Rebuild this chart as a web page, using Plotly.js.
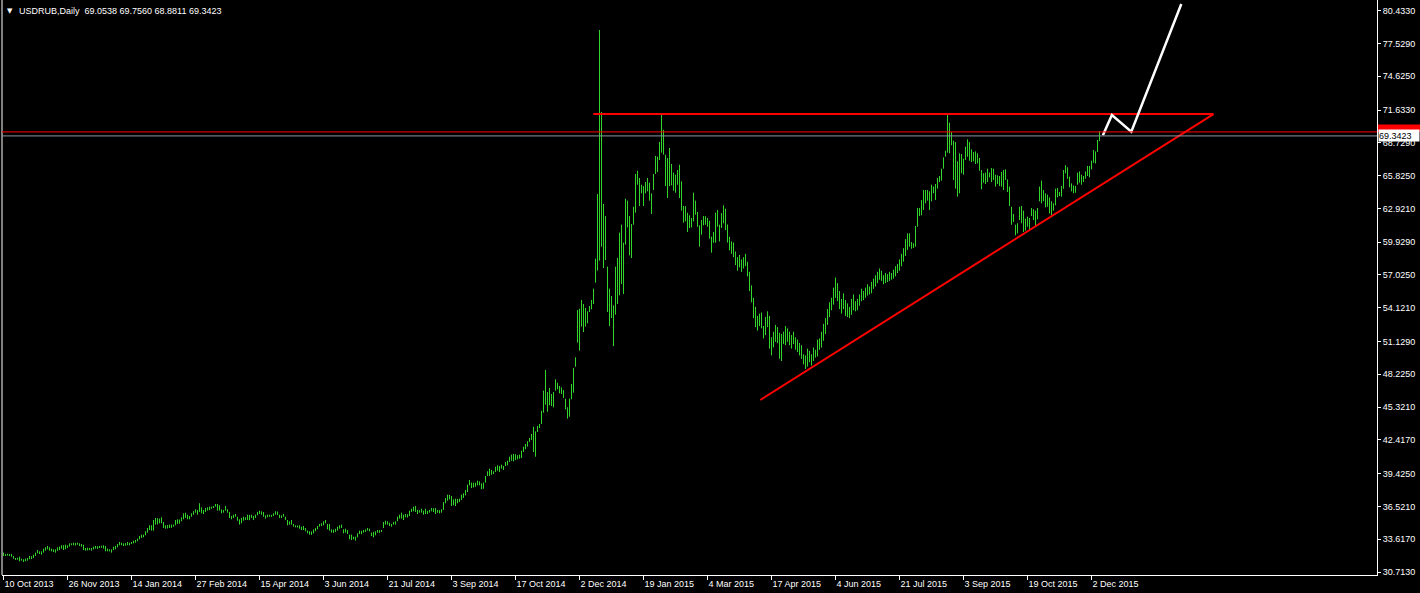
<!DOCTYPE html>
<html>
<head>
<meta charset="utf-8">
<script src="https://cdn.plot.ly/plotly-3.0.1.min.js"></script>
<style>html,body{margin:0;padding:0;background:#000;}#chart{width:1420px;height:593px;}</style>
</head>
<body>
<div id="chart"></div>
<script>
// ---- Data (USDRUB, Daily bars: high / low per trading day) ----
const symbolTitle = "USDRUB,Daily";
const lastOHLC = ["69.0538", "69.7560", "68.8811", "69.3423"];
const bidPrice = 69.3423;
const hLineLevel = 69.6954;

const dateLabels = ["10 Oct 2013","26 Nov 2013","14 Jan 2014","27 Feb 2014","15 Apr 2014","3 Jun 2014","21 Jul 2014","3 Sep 2014","17 Oct 2014","2 Dec 2014","19 Jan 2015","4 Mar 2015","17 Apr 2015","4 Jun 2015","21 Jul 2015","3 Sep 2015","19 Oct 2015","2 Dec 2015"];
const dateLabelBars = [0,32,64,96,128,160,192,224,256,288,320,352,384,416,448,480,512,544];

const priceTicks = [30.7130,33.6170,36.5210,39.4250,42.4170,45.3210,48.2250,51.1290,54.1210,57.0250,59.9290,62.9210,65.8250,68.7290,71.6330,74.6250,77.5290,80.4330];

const highs = [
32.43,32.31,32.33,32.31,32.31,32.13,31.95,31.97,32.07,31.90,
31.84,31.90,31.95,32.13,32.11,32.25,32.43,32.66,32.54,32.54,
32.78,32.90,33.02,32.90,32.78,32.72,32.72,32.90,32.96,33.08,
33.08,33.13,33.08,33.25,33.25,33.31,33.29,33.31,33.25,33.19,
33.13,32.84,32.86,32.84,32.84,32.96,33.02,33.00,33.02,33.04,
33.08,33.02,32.78,32.72,32.72,32.96,33.02,33.19,33.37,33.31,
33.25,33.27,33.37,33.31,33.37,33.49,33.55,33.67,33.90,34.02,
34.02,34.32,34.61,34.85,34.85,35.32,35.50,35.48,35.44,35.56,
35.14,34.85,34.87,34.91,34.91,34.91,35.32,35.38,35.36,35.56,
35.91,35.97,35.79,35.67,35.91,36.09,36.26,36.20,36.80,36.44,
36.20,36.38,36.44,36.50,36.50,36.56,36.74,36.74,36.62,36.26,
36.20,36.56,36.26,36.03,35.67,35.79,35.85,35.61,35.38,35.50,
35.61,35.56,35.79,35.77,35.79,35.67,35.79,36.03,36.15,36.09,
36.03,35.73,35.79,35.79,35.77,35.91,36.09,36.07,35.79,35.73,
35.85,35.61,35.32,35.20,35.32,34.97,34.85,34.83,34.85,34.73,
34.79,34.61,34.38,34.32,34.30,34.49,34.61,34.79,34.97,35.03,
35.20,35.32,34.97,34.97,34.49,34.47,34.55,34.73,34.85,34.91,
34.49,34.55,34.43,34.02,34.02,33.84,33.84,34.14,34.38,34.36,
34.43,34.49,34.61,34.55,34.20,34.26,34.32,34.43,34.41,34.43,
35.14,35.26,35.20,35.08,34.97,35.14,35.20,35.61,35.79,
35.97,35.79,35.85,35.83,36.15,36.32,36.50,36.56,36.21,36.19,
36.32,36.15,36.32,36.13,36.21,36.38,36.36,36.38,36.21,36.19,
36.27,36.91,37.27,37.56,37.54,37.45,37.15,37.21,37.19,37.21,
37.56,37.68,37.98,38.45,38.86,38.63,38.61,38.63,38.80,38.74,
38.57,38.63,39.22,39.63,39.87,39.75,39.63,40.04,40.16,40.10,
40.22,40.10,40.46,40.57,40.93,41.11,41.17,41.15,41.05,41.11,
41.46,41.82,42.05,42.29,42.58,42.94,43.59,43.17,43.65,43.82,
45.00,46.78,48.61,46.66,47.01,46.48,46.66,47.78,47.48,47.19,
47.07,46.83,46.07,45.30,46.07,47.37,48.78,49.73,
53.92,54.04,54.81,54.45,54.10,53.80,54.27,54.81,55.81,58.47,
64.20,78.72,71.46,63.31,62.25,57.76,55.81,55.16,54.33,57.76,
58.53,60.77,61.48,59.88,63.78,63.61,62.25,61.54,63.07,65.97,
66.26,65.61,65.02,64.90,65.26,65.61,65.20,64.25,65.97,67.56,
67.50,68.80,71.22,69.87,67.68,67.38,68.27,66.85,66.09,65.91,
66.32,66.79,65.32,63.13,63.11,62.54,62.31,62.07,64.31,63.61,
62.60,61.42,61.89,62.25,62.23,62.07,61.83,60.42,60.83,62.54,62.78,61.48,
62.5,63.2,62.9,61.5,60.4,60.0,59.9,59.1,58.6,58.8,
58.4,58.6,58.9,58.2,57.3,56.1,55.0,54.2,53.4,53.6,
53.7,52.5,53.3,53.8,53.4,51.5,52.0,52.6,52.4,51.9,
51.8,52.0,52.5,52.3,52.0,51.7,52.0,51.5,51.3,51.0,
50.8,50.0,49.9,50.5,50.3,50.0,50.6,50.4,51.3,51.4,
52.0,52.7,53.2,54.0,54.6,55.0,55.9,56.8,56.3,55.6,
54.9,55.4,54.8,54.5,54.2,54.9,55.3,54.7,54.9,55.3,
55.8,55.6,55.9,56.2,56.0,56.4,56.7,57.0,57.3,57.6,
57.4,57.0,57.2,57.1,57.3,57.2,57.5,57.8,58.0,58.4,58.9,59.4,60.2,
60.71,60.71,59.94,59.83,61.36,62.96,62.96,63.66,64.55,64.55,
64.55,64.43,65.02,64.85,65.08,65.61,65.79,66.44,67.45,68.03,
71.22,70.52,69.69,68.92,68.80,67.09,67.80,67.74,67.33,68.39,
69.04,68.80,68.15,67.92,67.97,67.80,67.39,66.32,66.03,66.09,
66.44,66.09,66.50,66.44,65.91,65.85,65.79,66.15,66.32,66.38,
65.49,64.85,63.07,62.42,61.48,61.60,63.07,63.13,62.72,62.01,
62.19,62.07,62.96,62.84,62.72,62.96,64.85,65.38,64.55,64.26,
64.14,63.90,63.55,63.37,64.67,64.73,64.37,64.91,66.32,66.74,
66.56,65.73,65.14,64.96,64.91,66.09,66.20,65.91,65.79,66.20,
66.68,66.68,67.15,68.09,67.97,68.98,69.756
];

const lows = [
32.13,32.13,32.16,32.13,32.07,31.90,31.78,31.80,31.66,31.72,
31.60,31.66,31.72,31.84,31.86,31.95,32.13,32.37,32.31,32.25,
32.43,32.60,32.72,32.60,32.54,32.49,32.43,32.60,32.66,32.78,
32.66,32.72,32.84,32.96,33.08,33.08,33.06,33.13,33.02,32.96,
32.66,32.60,32.62,32.66,32.60,32.72,32.78,32.76,32.84,32.86,
32.78,32.54,32.54,32.54,32.43,32.66,32.72,32.90,33.08,33.08,
33.02,33.04,33.08,33.08,33.19,33.25,33.31,33.43,33.61,33.73,
33.78,33.96,34.20,34.43,34.38,34.38,34.91,34.93,35.03,35.03,
34.61,34.55,34.57,34.61,34.63,34.73,34.85,34.97,34.99,35.20,
35.38,35.50,35.38,35.38,35.61,35.79,35.97,35.79,36.03,35.91,
35.85,36.03,36.15,36.20,36.32,36.38,36.50,36.15,36.15,35.91,
35.97,36.15,35.97,35.50,35.38,35.50,35.61,35.26,34.91,35.03,
35.26,35.32,35.32,35.30,35.50,35.32,35.50,35.73,35.85,35.79,
35.61,35.44,35.56,35.61,35.59,35.67,35.79,35.77,35.50,35.50,
35.61,35.32,34.85,34.91,34.91,34.73,34.67,34.65,34.55,34.43,
34.43,34.32,34.14,34.02,34.00,34.14,34.32,34.49,34.73,34.79,
34.85,35.03,34.49,34.38,34.20,34.18,34.26,34.38,34.55,34.61,
34.14,34.20,34.08,33.61,33.55,33.61,33.49,33.78,34.08,34.06,
34.20,34.26,34.38,34.32,33.90,33.78,33.96,34.20,34.18,34.26,
34.61,34.91,34.91,34.79,34.73,34.91,34.91,35.20,35.44,
35.44,35.32,35.56,35.54,35.67,36.03,36.09,36.03,35.85,35.97,
35.97,35.79,35.85,35.85,35.97,36.09,36.03,35.85,35.97,35.91,
35.97,36.21,36.80,37.03,37.15,36.56,36.62,36.56,36.80,36.91,
37.09,37.27,37.50,37.80,38.39,38.15,38.21,38.27,38.39,38.39,
38.04,38.09,38.63,39.22,39.22,39.33,39.39,39.57,39.69,39.57,
39.87,39.75,40.10,40.16,40.46,40.57,40.51,40.63,40.69,40.75,
40.81,41.34,41.58,41.82,42.23,42.41,41.34,40.93,43.11,43.47,
43.82,44.83,45.54,44.91,45.48,45.42,45.30,46.78,46.89,46.54,
46.48,46.13,45.12,44.30,44.47,46.01,46.60,48.90,
51.03,50.32,52.45,51.97,52.45,52.74,53.74,53.98,54.45,56.34,
57.41,58.29,59.53,57.64,58.35,53.74,52.50,53.21,50.73,53.51,
54.45,55.22,56.22,55.34,59.71,61.24,58.76,58.53,61.48,62.54,
65.02,63.13,64.25,63.13,64.25,64.43,63.61,62.43,64.55,65.97,
66.14,67.21,67.86,67.68,64.90,63.84,64.90,64.96,64.49,64.31,
65.02,63.84,62.72,61.66,61.77,60.83,61.18,61.24,61.77,62.37,
61.30,59.53,60.59,61.42,61.48,61.30,60.24,59.00,59.88,59.88,61.30,59.99,
61.2,61.6,61.0,59.9,59.2,58.9,58.6,57.9,57.4,57.7,
57.3,57.6,57.8,56.9,55.6,54.6,53.2,52.4,52.1,52.5,
52.3,51.4,51.7,52.4,50.5,49.9,50.6,51.1,51.0,49.6,
49.4,50.9,50.8,51.1,50.8,50.5,50.9,50.4,50.2,49.9,
49.6,49.1,48.7,48.9,49.3,49.0,49.4,49.7,49.8,50.4,
50.6,51.2,51.8,52.6,53.3,53.9,54.4,55.0,54.7,54.0,
53.6,54.0,53.4,53.3,53.2,53.5,53.9,53.8,53.9,54.3,
54.7,54.8,55.0,55.2,55.3,55.4,55.8,56.0,56.3,56.6,
56.5,56.2,56.3,56.4,56.5,56.6,56.7,56.9,57.2,57.4,57.8,58.2,58.7,
59.24,59.53,59.35,59.41,59.53,61.30,62.25,62.31,62.78,63.37,
63.61,62.78,63.55,64.26,63.66,64.67,65.26,65.38,66.44,67.50,
67.86,67.80,68.51,65.44,64.67,63.96,64.26,66.03,65.91,67.21,
67.50,67.15,67.03,67.09,66.85,66.91,66.26,64.61,65.20,65.08,
65.26,65.67,65.26,65.44,64.85,65.08,64.91,64.85,64.55,65.44,
64.37,63.13,61.48,61.72,60.53,60.71,61.89,61.60,60.83,60.95,
61.30,60.95,62.25,61.89,61.36,61.95,63.55,63.37,63.55,63.02,
63.07,62.48,62.31,62.72,63.19,63.90,64.02,63.96,64.67,66.03,
65.55,64.79,64.43,64.26,64.31,65.02,65.20,65.02,65.26,65.55,
65.79,65.67,66.38,66.97,66.91,67.92,68.881
];

// Drawn objects (bar index, price)
const resistanceBars = [294.9, 605];
const resistanceLevel = 71.28;
const trendBars = [378.4, 605];
const trendPrices = [45.95, 71.28];
const zigzagBars = [549.7, 554.2, 563.9, 588.9];
const zigzagPrices = [69.40, 71.19, 69.71, 81.03];

// ---- Build ----
const FONT = "Liberation Sans, Arial, sans-serif";
const GREEN = "rgb(50,214,42)";
const n = Math.min(highs.length, lows.length);
const bx = [], by = [];
for (let i = 0; i < n; i++) { bx.push(i, i, null); by.push(lows[i], highs[i], null); }

const traces = [
  {type: "scatter", mode: "lines", x: bx, y: by, line: {color: GREEN, width: 1}, hoverinfo: "skip", connectgaps: false},
  {type: "scatter", mode: "lines", x: resistanceBars, y: [resistanceLevel, resistanceLevel], line: {color: "#ff0000", width: 2}, hoverinfo: "skip"},
  {type: "scatter", mode: "lines", x: trendBars, y: trendPrices, line: {color: "#ff0000", width: 2}, hoverinfo: "skip"},
  {type: "scatter", mode: "lines", x: zigzagBars, y: zigzagPrices, line: {color: "#ffffff", width: 2.5}, hoverinfo: "skip"}
];

const W = 1420, H = 593, ML = 2, MR = 43, MT = 0, MB = 18;
const plotW = W - ML - MR, plotH = H - MT - MB;
const px = (p) => (p - ML) / plotW;   // page px -> paper x
const py = (p) => 1 - (p - MT) / plotH; // page px -> paper y
const yMin = 30.447, yMax = 81.381;
const pyPrice = (p) => yMax - (p - MT) / plotH * (yMax - yMin); // page px -> price

const layout = {
  width: W, height: H,
  margin: {l: ML, r: MR, t: MT, b: MB, pad: 0},
  paper_bgcolor: "#000", plot_bgcolor: "#000",
  showlegend: false,
  font: {family: FONT, size: 9, color: "#fff"},
  xaxis: {
    range: [-0.75, -0.75 + plotW / 2],
    tickmode: "array", tickvals: dateLabelBars, ticktext: dateLabels,
    ticks: "outside", ticklen: 4, tickcolor: "#fff", tickwidth: 1,
    ticklabelposition: "outside right",
    showline: true, linecolor: "#fff", linewidth: 1,
    showgrid: false, zeroline: false,
    tickfont: {family: FONT, size: 9, color: "#fff"}
  },
  yaxis: {
    side: "right",
    range: [yMin, yMax],
    tickmode: "array", tickvals: priceTicks, ticktext: priceTicks.map(v => v.toFixed(4)),
    ticks: "outside", ticklen: 3, tickcolor: "#fff", tickwidth: 1,
    showline: true, linecolor: "#fff", linewidth: 1,
    showgrid: false, zeroline: false,
    tickfont: {family: FONT, size: 9, color: "#fff"}
  },
  shapes: [
    {type: "line", xref: "paper", yref: "paper", x0: 0, x1: 0, y0: 0, y1: 1, line: {color: "#fff", width: 1}},
    {type: "line", xref: "paper", yref: "y", x0: 0, x1: 1, y0: hLineLevel, y1: hLineLevel, line: {color: "#ff0000", width: 1}},
    {type: "line", xref: "paper", yref: "y", x0: 0, x1: 1, y0: bidPrice, y1: bidPrice, line: {color: "#8a96a3", width: 1}},
    // red price tag of the horizontal line (mostly hidden behind the bid tag)
    {type: "rect", xref: "paper", yref: "y", x0: px(1378), x1: px(1420), y0: pyPrice(124.5), y1: hLineLevel, fillcolor: "#ff0000", line: {width: 0}, layer: "above"}
  ],
  annotations: [
    {xref: "paper", yref: "paper", x: px(5), y: py(10.5), xanchor: "left", yanchor: "middle", text: "▼", showarrow: false, font: {family: "DejaVu Sans", size: 7, color: "#fff"}},
    {xref: "paper", yref: "paper", x: px(17), y: py(10.5), xanchor: "left", yanchor: "middle", text: symbolTitle + "&nbsp;&nbsp;" + lastOHLC.join(" "), showarrow: false, font: {family: FONT, size: 9, color: "#fff"}},
    {xref: "paper", yref: "y", x: 1, y: bidPrice, xanchor: "left", yanchor: "middle", xshift: 1, text: bidPrice.toFixed(4), showarrow: false, bgcolor: "#ffffff", width: 40, height: 11, borderpad: 0, align: "left", font: {family: FONT, size: 9, color: "#000"}}
  ]
};

Plotly.newPlot("chart", traces, layout, {staticPlot: true, displayModeBar: false});
</script>
</body>
</html>
